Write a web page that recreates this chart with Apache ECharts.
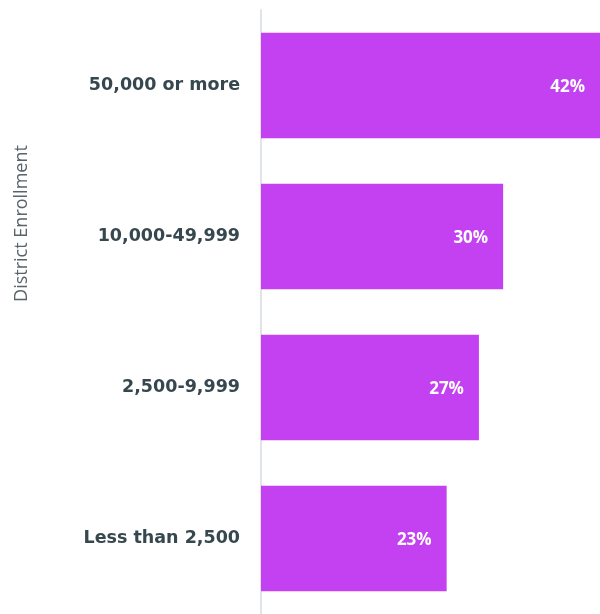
<!DOCTYPE html>
<html>
<head>
<meta charset="utf-8">
<script src="https://cdn.jsdelivr.net/npm/echarts@6/dist/echarts.min.js"></script>
<style>
  html, body { margin: 0; padding: 0; background: #fff; }
  #chart { width: 600px; height: 614px; }
</style>
</head>
<body>
<div id="chart"></div>
<script>
// District enrollment bands and share of districts (%)
const categories = ['50,000 or more', '10,000-49,999', '2,500-9,999', 'Less than 2,500'];
const shares = [42, 30, 27, 23];

const chart = echarts.init(document.getElementById('chart'));
chart.setOption({
  animation: false,
  grid: { left: 261, right: 0, top: 10, height: 610, containLabel: false },
  xAxis: {
    type: 'value', min: 0, max: 42,
    show: false
  },
  yAxis: {
    type: 'category',
    data: categories,
    inverse: true,
    axisLine: { show: true, lineStyle: { color: '#dfe5ea', width: 2 } },
    axisTick: { show: false },
    axisLabel: {
      margin: 21,
      color: '#37474f',
      fontFamily: 'DejaVu Sans',
      fontWeight: 'bold',
      fontSize: 17.5
    },
    name: 'District Enrollment',
    nameLocation: 'middle',
    nameRotate: 90,
    nameGap: 230,
    nameTextStyle: {
      color: '#59636a',
      fontFamily: 'Open Sans',
      fontSize: 18,
      padding: [0, 0, 0, 177]
    }
  },
  series: [{
    type: 'bar',
    data: shares,
    barCategoryGap: '30%',
    itemStyle: { color: '#c341f0' },
    label: {
      show: true,
      position: 'insideRight',
      distance: 15,
      offset: [0, 2],
      formatter: '{c}%',
      color: '#ffffff',
      fontFamily: 'Open Sans',
      fontWeight: 'bold',
      fontSize: 17
    }
  }]
});
</script>
</body>
</html>
